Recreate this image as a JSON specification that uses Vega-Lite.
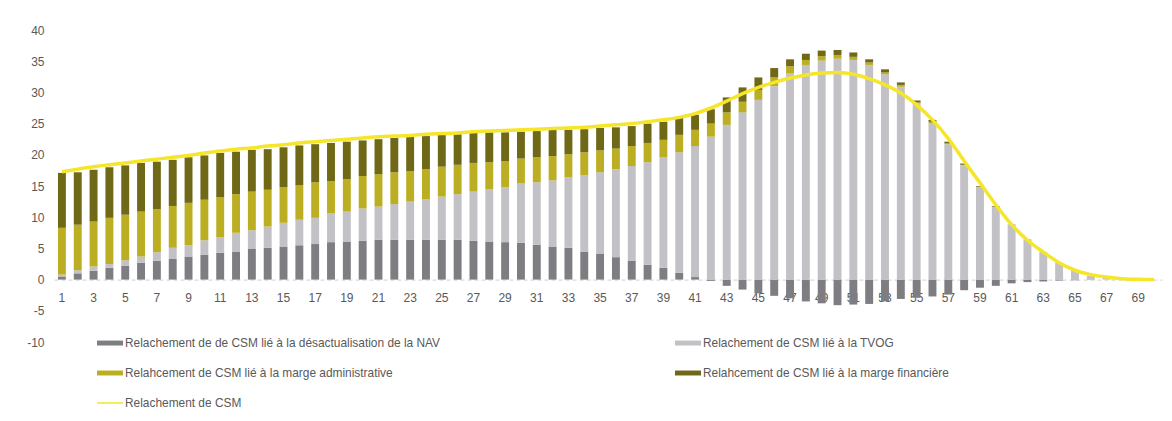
{
  "$schema": "https://vega.github.io/schema/vega-lite/v6.json",
  "width": 1108,
  "height": 312,
  "autosize": {"type": "none"},
  "padding": {"left": 54, "top": 30, "right": 10, "bottom": 79},
  "background": "white",
  "config": {
    "view": {"stroke": null},
    "font": "Liberation Sans",
    "axis": {"labelColor": "#595959", "labelFontSize": 12, "title": null, "grid": false}
  },
  "data": {
    "values": [
      {"Annee": 1, "A_NAV": 0.5, "B_TVOG": 0.3, "C_Admin": 7.5, "D_Fin": 8.8, "CSM": 17.3},
      {"Annee": 2, "A_NAV": 1.0, "B_TVOG": 0.5, "C_Admin": 7.3, "D_Fin": 8.4, "CSM": 17.7},
      {"Annee": 3, "A_NAV": 1.4, "B_TVOG": 0.7, "C_Admin": 7.2, "D_Fin": 8.3, "CSM": 18.1},
      {"Annee": 4, "A_NAV": 1.9, "B_TVOG": 0.6, "C_Admin": 7.4, "D_Fin": 8.1, "CSM": 18.4},
      {"Annee": 5, "A_NAV": 2.2, "B_TVOG": 0.9, "C_Admin": 7.3, "D_Fin": 7.9, "CSM": 18.7},
      {"Annee": 6, "A_NAV": 2.7, "B_TVOG": 1.0, "C_Admin": 7.2, "D_Fin": 7.8, "CSM": 19.0},
      {"Annee": 7, "A_NAV": 3.0, "B_TVOG": 1.4, "C_Admin": 6.9, "D_Fin": 7.6, "CSM": 19.3},
      {"Annee": 8, "A_NAV": 3.3, "B_TVOG": 1.8, "C_Admin": 6.7, "D_Fin": 7.4, "CSM": 19.6},
      {"Annee": 9, "A_NAV": 3.7, "B_TVOG": 1.8, "C_Admin": 6.8, "D_Fin": 7.3, "CSM": 19.9},
      {"Annee": 10, "A_NAV": 4.0, "B_TVOG": 2.3, "C_Admin": 6.5, "D_Fin": 7.1, "CSM": 20.3},
      {"Annee": 11, "A_NAV": 4.3, "B_TVOG": 2.5, "C_Admin": 6.4, "D_Fin": 7.1, "CSM": 20.6},
      {"Annee": 12, "A_NAV": 4.5, "B_TVOG": 3.0, "C_Admin": 6.2, "D_Fin": 6.8, "CSM": 20.9},
      {"Annee": 13, "A_NAV": 4.9, "B_TVOG": 3.0, "C_Admin": 6.2, "D_Fin": 6.7, "CSM": 21.1},
      {"Annee": 14, "A_NAV": 5.1, "B_TVOG": 3.4, "C_Admin": 5.9, "D_Fin": 6.5, "CSM": 21.4},
      {"Annee": 15, "A_NAV": 5.3, "B_TVOG": 3.8, "C_Admin": 5.7, "D_Fin": 6.4, "CSM": 21.6},
      {"Annee": 16, "A_NAV": 5.5, "B_TVOG": 4.1, "C_Admin": 5.5, "D_Fin": 6.4, "CSM": 21.9},
      {"Annee": 17, "A_NAV": 5.7, "B_TVOG": 4.2, "C_Admin": 5.7, "D_Fin": 6.1, "CSM": 22.1},
      {"Annee": 18, "A_NAV": 6.0, "B_TVOG": 4.6, "C_Admin": 5.2, "D_Fin": 6.1, "CSM": 22.3},
      {"Annee": 19, "A_NAV": 6.1, "B_TVOG": 4.8, "C_Admin": 5.2, "D_Fin": 6.0, "CSM": 22.5},
      {"Annee": 20, "A_NAV": 6.2, "B_TVOG": 5.2, "C_Admin": 5.2, "D_Fin": 5.7, "CSM": 22.7},
      {"Annee": 21, "A_NAV": 6.4, "B_TVOG": 5.3, "C_Admin": 5.2, "D_Fin": 5.6, "CSM": 22.9},
      {"Annee": 22, "A_NAV": 6.4, "B_TVOG": 5.7, "C_Admin": 5.1, "D_Fin": 5.5, "CSM": 23.0},
      {"Annee": 23, "A_NAV": 6.4, "B_TVOG": 6.1, "C_Admin": 4.9, "D_Fin": 5.5, "CSM": 23.1},
      {"Annee": 24, "A_NAV": 6.4, "B_TVOG": 6.5, "C_Admin": 4.8, "D_Fin": 5.3, "CSM": 23.3},
      {"Annee": 25, "A_NAV": 6.4, "B_TVOG": 6.9, "C_Admin": 4.8, "D_Fin": 5.1, "CSM": 23.4},
      {"Annee": 26, "A_NAV": 6.4, "B_TVOG": 7.3, "C_Admin": 4.7, "D_Fin": 4.9, "CSM": 23.5},
      {"Annee": 27, "A_NAV": 6.2, "B_TVOG": 7.9, "C_Admin": 4.6, "D_Fin": 4.8, "CSM": 23.7},
      {"Annee": 28, "A_NAV": 6.1, "B_TVOG": 8.4, "C_Admin": 4.3, "D_Fin": 4.8, "CSM": 23.8},
      {"Annee": 29, "A_NAV": 6.0, "B_TVOG": 8.8, "C_Admin": 4.2, "D_Fin": 4.6, "CSM": 23.9},
      {"Annee": 30, "A_NAV": 5.9, "B_TVOG": 9.5, "C_Admin": 4.0, "D_Fin": 4.3, "CSM": 24.0},
      {"Annee": 31, "A_NAV": 5.6, "B_TVOG": 10.0, "C_Admin": 4.0, "D_Fin": 4.2, "CSM": 24.1},
      {"Annee": 32, "A_NAV": 5.3, "B_TVOG": 10.6, "C_Admin": 3.9, "D_Fin": 4.2, "CSM": 24.2},
      {"Annee": 33, "A_NAV": 5.1, "B_TVOG": 11.3, "C_Admin": 3.7, "D_Fin": 3.9, "CSM": 24.3},
      {"Annee": 34, "A_NAV": 4.5, "B_TVOG": 12.2, "C_Admin": 3.7, "D_Fin": 3.7, "CSM": 24.4},
      {"Annee": 35, "A_NAV": 4.1, "B_TVOG": 13.1, "C_Admin": 3.5, "D_Fin": 3.6, "CSM": 24.6},
      {"Annee": 36, "A_NAV": 3.6, "B_TVOG": 14.1, "C_Admin": 3.3, "D_Fin": 3.4, "CSM": 24.8},
      {"Annee": 37, "A_NAV": 3.0, "B_TVOG": 15.2, "C_Admin": 3.2, "D_Fin": 3.2, "CSM": 25.0},
      {"Annee": 38, "A_NAV": 2.4, "B_TVOG": 16.4, "C_Admin": 3.1, "D_Fin": 3.1, "CSM": 25.3},
      {"Annee": 39, "A_NAV": 1.9, "B_TVOG": 17.7, "C_Admin": 2.8, "D_Fin": 2.9, "CSM": 25.6},
      {"Annee": 40, "A_NAV": 1.1, "B_TVOG": 19.3, "C_Admin": 2.8, "D_Fin": 2.7, "CSM": 26.0},
      {"Annee": 41, "A_NAV": 0.4, "B_TVOG": 21.0, "C_Admin": 2.6, "D_Fin": 2.4, "CSM": 26.6},
      {"Annee": 42, "A_NAV": -0.2, "B_TVOG": 22.9, "C_Admin": 2.1, "D_Fin": 2.3, "CSM": 27.5},
      {"Annee": 43, "A_NAV": -1.0, "B_TVOG": 24.8, "C_Admin": 2.0, "D_Fin": 2.4, "CSM": 28.6},
      {"Annee": 44, "A_NAV": -1.6, "B_TVOG": 26.8, "C_Admin": 1.7, "D_Fin": 2.3, "CSM": 29.8},
      {"Annee": 45, "A_NAV": -2.2, "B_TVOG": 28.8, "C_Admin": 1.6, "D_Fin": 2.0, "CSM": 30.8},
      {"Annee": 46, "A_NAV": -2.6, "B_TVOG": 31.0, "C_Admin": 1.4, "D_Fin": 1.5, "CSM": 31.6},
      {"Annee": 47, "A_NAV": -3.0, "B_TVOG": 33.1, "C_Admin": 1.1, "D_Fin": 1.1, "CSM": 32.3},
      {"Annee": 48, "A_NAV": -3.5, "B_TVOG": 34.4, "C_Admin": 0.8, "D_Fin": 1.0, "CSM": 32.8},
      {"Annee": 49, "A_NAV": -3.8, "B_TVOG": 35.1, "C_Admin": 0.7, "D_Fin": 0.9, "CSM": 33.1},
      {"Annee": 50, "A_NAV": -4.1, "B_TVOG": 35.4, "C_Admin": 0.6, "D_Fin": 0.8, "CSM": 33.2},
      {"Annee": 51, "A_NAV": -4.0, "B_TVOG": 35.2, "C_Admin": 0.5, "D_Fin": 0.7, "CSM": 32.9},
      {"Annee": 52, "A_NAV": -3.9, "B_TVOG": 34.4, "C_Admin": 0.4, "D_Fin": 0.5, "CSM": 32.2},
      {"Annee": 53, "A_NAV": -3.5, "B_TVOG": 32.9, "C_Admin": 0.3, "D_Fin": 0.5, "CSM": 31.2},
      {"Annee": 54, "A_NAV": -3.1, "B_TVOG": 30.9, "C_Admin": 0.3, "D_Fin": 0.4, "CSM": 29.9},
      {"Annee": 55, "A_NAV": -2.9, "B_TVOG": 28.2, "C_Admin": 0.2, "D_Fin": 0.3, "CSM": 28.0},
      {"Annee": 56, "A_NAV": -2.7, "B_TVOG": 25.1, "C_Admin": 0.2, "D_Fin": 0.3, "CSM": 25.6},
      {"Annee": 57, "A_NAV": -2.4, "B_TVOG": 21.7, "C_Admin": 0.15, "D_Fin": 0.25, "CSM": 22.6},
      {"Annee": 58, "A_NAV": -1.7, "B_TVOG": 18.3, "C_Admin": 0.1, "D_Fin": 0.2, "CSM": 19.0},
      {"Annee": 59, "A_NAV": -1.3, "B_TVOG": 14.8, "C_Admin": 0.1, "D_Fin": 0.1, "CSM": 15.5},
      {"Annee": 60, "A_NAV": -1.0, "B_TVOG": 11.6, "C_Admin": 0.1, "D_Fin": 0.1, "CSM": 12.0},
      {"Annee": 61, "A_NAV": -0.6, "B_TVOG": 8.7, "C_Admin": 0.05, "D_Fin": 0.05, "CSM": 8.8},
      {"Annee": 62, "A_NAV": -0.4, "B_TVOG": 6.3, "C_Admin": 0.05, "D_Fin": 0.05, "CSM": 6.3},
      {"Annee": 63, "A_NAV": -0.3, "B_TVOG": 4.35, "C_Admin": 0.03, "D_Fin": 0.02, "CSM": 4.4},
      {"Annee": 64, "A_NAV": -0.15, "B_TVOG": 2.7, "C_Admin": 0, "D_Fin": 0, "CSM": 2.7},
      {"Annee": 65, "A_NAV": -0.1, "B_TVOG": 1.5, "C_Admin": 0, "D_Fin": 0, "CSM": 1.5},
      {"Annee": 66, "A_NAV": -0.05, "B_TVOG": 0.6, "C_Admin": 0, "D_Fin": 0, "CSM": 0.8},
      {"Annee": 67, "A_NAV": 0, "B_TVOG": 0.3, "C_Admin": 0, "D_Fin": 0, "CSM": 0.4},
      {"Annee": 68, "A_NAV": 0, "B_TVOG": 0.12, "C_Admin": 0, "D_Fin": 0, "CSM": 0.15},
      {"Annee": 69, "A_NAV": 0, "B_TVOG": 0.05, "C_Admin": 0, "D_Fin": 0, "CSM": 0.05},
      {"Annee": 70, "A_NAV": 0, "B_TVOG": 0, "C_Admin": 0, "D_Fin": 0, "CSM": 0}
    ]
  },
  "encoding": {
    "x": {
      "field": "Annee",
      "type": "ordinal",
      "scale": {"paddingInner": 0.5, "paddingOuter": 0.25},
      "axis": {
        "labelAngle": 0,
        "labelExpr": "datum.value % 2 === 1 ? datum.label : ''",
        "offset": -62.4,
        "ticks": false,
        "labelPadding": 13,
        "domainColor": "#d0d0d0",
        "domainDash": [4, 3],
        "domainWidth": 1
      }
    }
  },
  "layer": [
    {
      "mark": {"type": "bar"},
      "transform": [
        {"fold": ["A_NAV", "B_TVOG", "C_Admin", "D_Fin"], "as": ["Serie", "Valeur"]}
      ],
      "encoding": {
        "y": {
          "field": "Valeur",
          "type": "quantitative",
          "stack": "zero",
          "scale": {"domain": [-10, 40], "nice": false},
          "axis": {
            "values": [-10, -5, 0, 5, 10, 15, 20, 25, 30, 35, 40],
            "labelOverlap": false,
            "labelExpr": "replace(datum.label, '\u2212', '-')",
            "domain": false,
            "ticks": false,
            "labelPadding": 10
          }
        },
        "color": {
          "field": "Serie",
          "type": "nominal",
          "scale": {
            "domain": ["A_NAV", "C_Admin", "CSM", "B_TVOG", "D_Fin"],
            "range": ["#7d7d82", "#bcae22", "#f5e62b", "#c1c1c6", "#6e6817"]
          },
          "legend": {
            "orient": "none",
            "legendX": 43,
            "legendY": 300,
            "columns": 2,
            "columnPadding": 234,
            "rowPadding": 11,
            "padding": 0,
            "title": null,
            "symbolSize": 676,
            "symbolType": "M-1,-0.19H1V0.19H-1Z",
            "symbolStrokeWidth": 0,
            "labelFontSize": 11.9,
            "labelColor": "#595959",
            "labelOffset": 2,
            "labelLimit": 500,
            "labelExpr": "{'A_NAV': 'Relachement de de CSM lié à la désactualisation de la NAV', 'B_TVOG': 'Relachement de CSM lié à la TVOG', 'C_Admin': 'Relahcement de CSM lié à la marge administrative', 'D_Fin': 'Relahcement de CSM lié à la marge financière', 'CSM': 'Relachement de CSM'}[datum.value]",
            "encode": {
              "symbols": {
                "update": {
                  "shape": {"signal": "datum.value === 'CSM' ? 'M-1,-0.06H1V0.06H-1Z' : 'M-1,-0.19H1V0.19H-1Z'"}
                }
              }
            }
          }
        },
        "order": {"field": "Serie", "sort": "ascending"}
      }
    },
    {
      "mark": {"type": "line", "interpolate": "monotone", "strokeWidth": 3.5},
      "encoding": {
        "y": {
          "field": "CSM",
          "type": "quantitative",
          "axis": {
            "values": [-10, -5, 0, 5, 10, 15, 20, 25, 30, 35, 40],
            "labelOverlap": false,
            "labelExpr": "replace(datum.label, '\u2212', '-')",
            "domain": false,
            "ticks": false,
            "labelPadding": 10
          }
        },
        "color": {"datum": "CSM"}
      }
    }
  ]
}
